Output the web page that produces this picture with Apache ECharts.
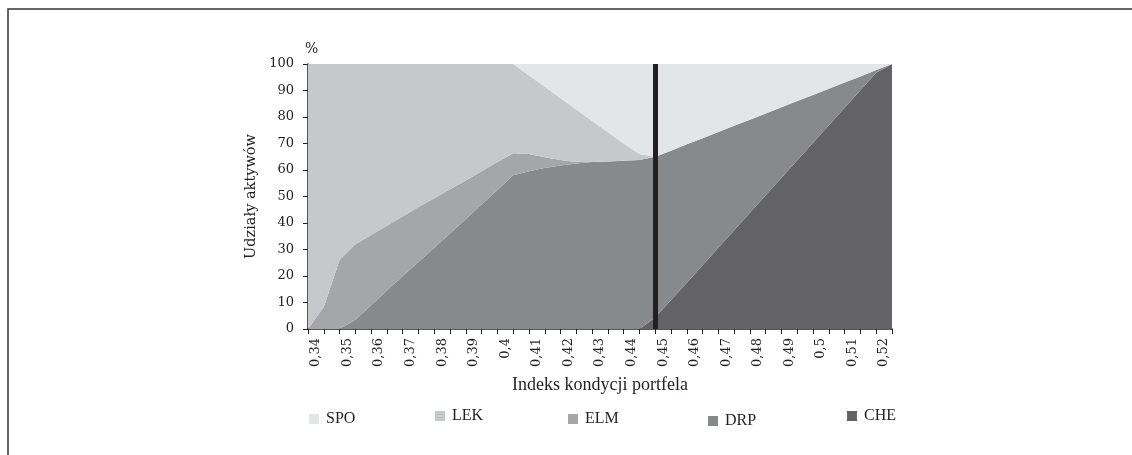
<!DOCTYPE html>
<html>
<head>
<meta charset="utf-8">
<script src="https://cdn.jsdelivr.net/npm/echarts@6/dist/echarts.min.js"></script>
<style>
  html, body { margin: 0; padding: 0; background: #ffffff; }
  #chart { width: 1132px; height: 455px; }
</style>
</head>
<body>
<div id="chart"></div>
<script>
// Category labels (x-axis, one per category; every second one is shown)
const xLabels = [0.34, 0.345, 0.35, 0.355, 0.36, 0.365, 0.37, 0.375, 0.38, 0.385, 0.39, 0.395,
  0.4, 0.405, 0.41, 0.415, 0.42, 0.425, 0.43, 0.435, 0.44, 0.445, 0.45, 0.455, 0.46, 0.465,
  0.47, 0.475, 0.48, 0.485, 0.49, 0.495, 0.5, 0.505, 0.51, 0.515, 0.52];

// Data points sit on the category boundaries (tick marks)
const xPoints = [0.3375, 0.3425, 0.3475, 0.3525, 0.3575, 0.3625, 0.3675, 0.3725, 0.3775, 0.3825,
  0.3875, 0.3925, 0.3975, 0.4025, 0.4075, 0.4125, 0.4175, 0.4225, 0.4275, 0.4325, 0.4375,
  0.4425, 0.4475, 0.4525, 0.4575, 0.4625, 0.4675, 0.4725, 0.4775, 0.4825, 0.4875, 0.4925,
  0.4975, 0.5025, 0.5075, 0.5125, 0.5175, 0.5225];

const cutoff = 0.4475;

const CHE = [0, 0, 0, 0, 0, 0, 0, 0, 0, 0, 0, 0, 0, 0, 0, 0, 0, 0, 0, 0, 0, 0,
  4.3, 10.9, 17.5, 24.1, 30.7, 37.3, 43.9, 50.5, 57.1, 63.7, 70.3, 76.9, 83.5, 90.1, 96.7, 100];
const DRP = [0, 0, 0, 3.5, 9, 14.5, 20, 25.3, 30.7, 36, 41.5, 47, 52.5, 58, 59.5, 60.8, 61.7,
  62.5, 63, 63.2, 63.5, 63.8, 60.7, 56.4, 52.2, 47.9, 43.6, 39.4, 35.1, 30.8, 26.6, 22.3, 18,
  13.8, 9.5, 5.2, 1, 0];
const ELM = [0, 8.3, 26, 28.5, 26.5, 24.5, 22.5, 20.7, 18.6, 16.7, 14.5, 12.5, 10.5, 8.3, 6.5,
  4, 2.1, 0.5, 0, 0, 0, 0, 0, 0, 0, 0, 0, 0, 0, 0, 0, 0, 0, 0, 0, 0, 0, 0];
const LEK = [100, 91.7, 74, 68, 64.5, 61, 57.5, 54, 50.7, 47.3, 44, 40.5, 37, 33.7, 29.7, 26.6,
  23.3, 19.8, 15.5, 11, 6.5, 2.2, 0, 0, 0, 0, 0, 0, 0, 0, 0, 0, 0, 0, 0, 0, 0, 0];
const SPO = [0, 0, 0, 0, 0, 0, 0, 0, 0, 0, 0, 0, 0, 0, 4.3, 8.6, 12.9, 17.2, 21.5, 25.8, 30, 34,
  35, 32.7, 30.3, 28, 25.7, 23.3, 21, 18.7, 16.3, 14, 11.7, 9.3, 7, 4.7, 2.3, 0];

const seriesNames = ['CHE', 'DRP', 'ELM', 'LEK', 'SPO'];
const seriesData = [CHE, DRP, ELM, LEK, SPO];
const colors = {
  SPO: '#e4e5e7', LEK: '#c7c8ca', ELM: '#a5a6a9', DRP: '#88898d', CHE: '#636365'
};

const ink = '#231f20';
const serif = 'DejaVu Serif';
const times = 'Liberation Serif';

const chart = echarts.init(document.getElementById('chart'), null, { renderer: 'canvas' });

const series = seriesNames.map((name, i) => {
  const s = {
    name: name,
    type: 'line',
    stack: 'total',
    xAxisIndex: 0,
    data: seriesData[i],
    showSymbol: false,
    symbol: 'none',
    lineStyle: { width: 0 },
    areaStyle: { color: colors[name], opacity: 1 },
    itemStyle: { color: colors[name] },
    z: 2
  };
  if (name === 'SPO') {
    s.markLine = {
      silent: true,
      symbol: ['none', 'none'],
      label: { show: false },
      lineStyle: { color: ink, width: 5, type: 'solid' },
      data: [{ xAxis: String(cutoff) }],
      z: 5
    };
  }
  return s;
});

const legendSpec = [
  { name: 'SPO', left: 309, top: 411 },
  { name: 'LEK', left: 435, top: 408 },
  { name: 'ELM', left: 568, top: 411 },
  { name: 'DRP', left: 708, top: 413 },
  { name: 'CHE', left: 847, top: 408 }
];

const option = {
  animation: false,
  backgroundColor: '#ffffff',
  grid: { left: 308, right: 240, top: 64, bottom: 126, containLabel: false },
  xAxis: [
    {
      type: 'category',
      data: xPoints.map(String),
      boundaryGap: false,
      position: 'bottom',
      axisLine: { show: true, lineStyle: { color: ink, width: 1.5 } },
      axisTick: { show: true, inside: false, length: 5, interval: 0, lineStyle: { color: ink, width: 1 } },
      axisLabel: { show: false },
      splitLine: { show: false }
    },
    {
      type: 'category',
      data: xLabels.map(v => String(v).replace('.', ',')),
      boundaryGap: true,
      position: 'bottom',
      axisLine: { show: false },
      axisTick: { show: false },
      axisLabel: {
        show: true, interval: 1, rotate: 90, margin: 9,
        fontFamily: serif, fontSize: 13, color: ink
      },
      splitLine: { show: false },
      name: 'Indeks kondycji portfela',
      nameLocation: 'middle',
      nameGap: 47,
      nameTextStyle: { fontFamily: times, fontSize: 18, color: ink }
    }
  ],
  yAxis: {
    type: 'value',
    min: 0, max: 100, interval: 10,
    axisLine: { show: true, lineStyle: { color: ink, width: 1.5 } },
    axisTick: { show: true, inside: false, length: 5, lineStyle: { color: ink, width: 1 } },
    axisLabel: { fontFamily: serif, fontSize: 13, color: ink, margin: 14 },
    splitLine: { show: false },
    name: 'Udziały aktywów',
    nameLocation: 'middle',
    nameGap: 49,
    nameTextStyle: { fontFamily: serif, fontSize: 14.5, color: ink }
  },
  legend: legendSpec.map(l => ({
    data: [l.name],
    left: l.left, top: l.top,
    padding: 0,
    itemWidth: 10, itemHeight: 10, itemGap: 0,
    icon: 'rect',
    selectedMode: false,
    textStyle: { fontFamily: times, fontSize: 16, color: ink, padding: [0, 0, 0, 2] }
  })),
  graphic: [
    {
      type: 'polyline',
      shape: { points: [[8, 455], [8, 9], [1132, 9]] },
      style: { stroke: '#333333', lineWidth: 1.5, fill: null },
      silent: true
    },
    {
      type: 'text',
      left: 305, top: 42,
      style: { text: '%', fontFamily: serif, fontSize: 14, fill: ink },
      silent: true
    }
  ],
  series: series
};

chart.setOption(option);
</script>
</body>
</html>
